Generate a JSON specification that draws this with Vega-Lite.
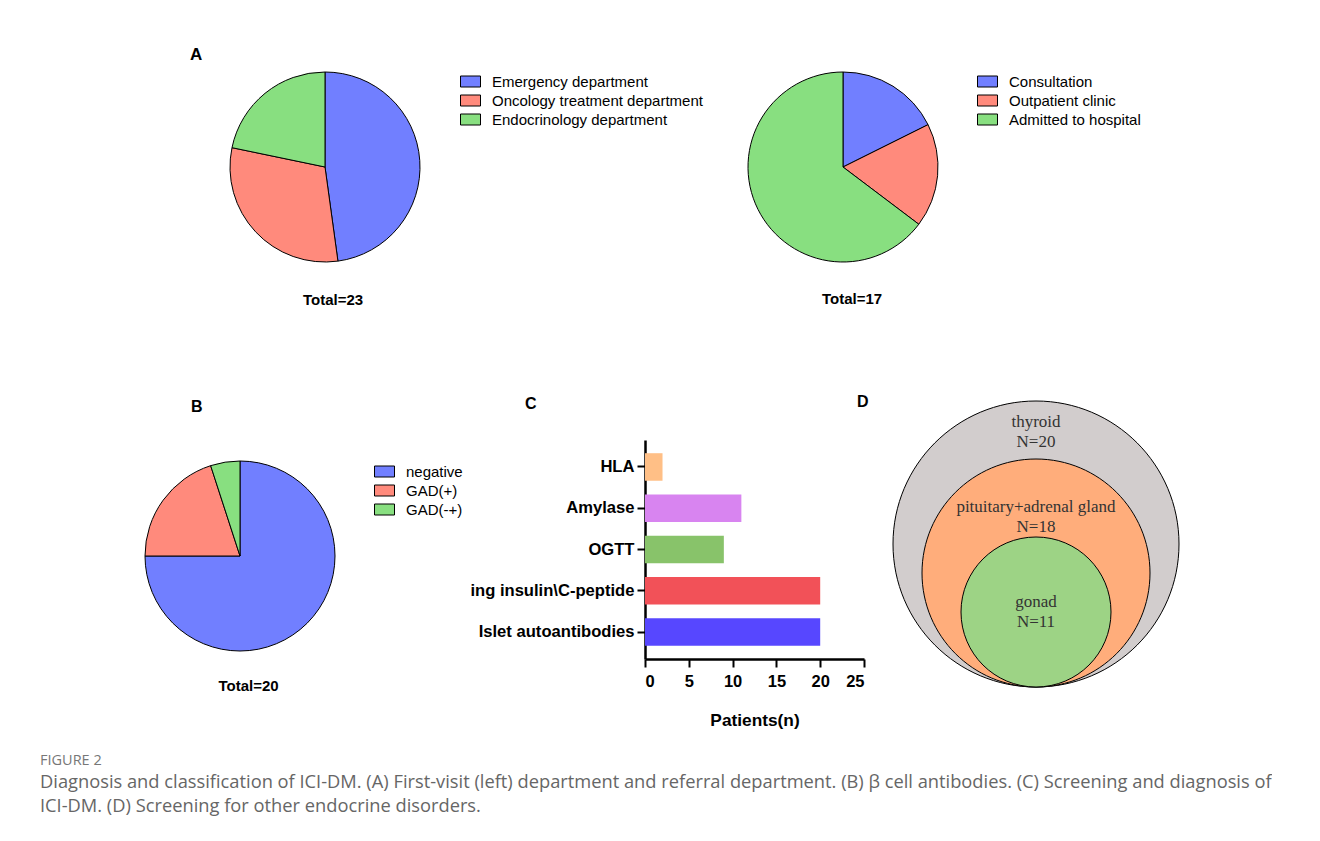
{
  "$schema": "https://vega.github.io/schema/vega-lite/v6.json",
  "padding": {"left": 40, "top": 45, "right": 0, "bottom": 0},
  "background": "white",
  "config": {
    "view": {"stroke": null},
    "font": "Liberation Sans",
    "title": {"font": "Liberation Sans", "fontWeight": "bold", "color": "black"},
    "legend": {
      "labelFont": "Liberation Sans", "labelFontSize": 15, "labelColor": "black", "labelLimit": 400,
      "symbolType": "M-1,-0.55H1V0.55H-1Z", "symbolSize": 400,
      "symbolStrokeColor": "black", "symbolStrokeWidth": 1, "symbolOpacity": 1,
      "labelOffset": 11, "rowPadding": 0, "padding": 0, "title": null
    }
  },
  "title": {
    "text": "FIGURE 2",
    "subtitle": [
      "Diagnosis and classification of ICI-DM. (A) First-visit (left) department and referral department. (B) β cell antibodies. (C) Screening and diagnosis of",
      "ICI-DM. (D) Screening for other endocrine disorders."
    ],
    "orient": "bottom", "anchor": "start", "frame": "bounds", "offset": 25,
    "font": "Open Sans", "fontSize": 14.5, "fontWeight": "normal", "color": "#777777",
    "subtitleFont": "Open Sans", "subtitleFontSize": 18.3, "subtitleColor": "#666666",
    "subtitleLineHeight": 24, "subtitlePadding": 6
  },
  "spacing": 86,
  "resolve": {"scale": {"color": "independent", "size": "independent"}, "legend": {"color": "independent"}},
  "vconcat": [
    {
      "bounds": "flush",
      "spacing": 0,
      "title": {"text": "A", "anchor": "start", "frame": "group", "dx": 150, "fontSize": 17, "offset": 6.5},
      "resolve": {"scale": {"color": "independent", "size": "independent"}, "legend": {"color": "independent"}},
      "hconcat": [
        {
          "width": 570, "height": 190,
          "data": {"values": [
            {"dept": "Emergency department", "n": 11, "i": 1},
            {"dept": "Oncology treatment department", "n": 7, "i": 2},
            {"dept": "Endocrinology department", "n": 5, "i": 3}
          ]},
          "mark": {"type": "arc", "radius": 95, "stroke": "black", "strokeWidth": 1},
          "encoding": {
            "theta": {"field": "n", "type": "quantitative", "stack": true},
            "order": {"field": "i", "type": "quantitative"},
            "color": {
              "field": "dept", "type": "nominal",
              "scale": {"domain": ["Emergency department", "Oncology treatment department", "Endocrinology department"], "range": ["#717fff", "#ff8a7c", "#88df80"]},
              "legend": {"orient": "none", "legendX": 420, "legendY": -1}
            }
          },
          "title": {"text": "Total=23", "orient": "bottom", "anchor": "middle", "frame": "group", "dx": 8, "offset": 29, "fontSize": 15}
        },
        {
          "width": 466, "height": 190,
          "data": {"values": [
            {"ref": "Consultation", "n": 3, "i": 1},
            {"ref": "Outpatient clinic", "n": 3, "i": 2},
            {"ref": "Admitted to hospital", "n": 11, "i": 3}
          ]},
          "mark": {"type": "arc", "radius": 95, "stroke": "black", "strokeWidth": 1},
          "encoding": {
            "theta": {"field": "n", "type": "quantitative", "stack": true},
            "order": {"field": "i", "type": "quantitative"},
            "color": {
              "field": "ref", "type": "nominal",
              "scale": {"domain": ["Consultation", "Outpatient clinic", "Admitted to hospital"], "range": ["#717fff", "#ff8a7c", "#88df80"]},
              "legend": {"orient": "none", "legendX": 367, "legendY": -1}
            }
          },
          "title": {"text": "Total=17", "orient": "bottom", "anchor": "middle", "frame": "group", "dx": 9, "offset": 28, "fontSize": 15}
        }
      ]
    },
    {
      "bounds": "flush",
      "spacing": 205,
      "title": {"text": "B", "anchor": "start", "frame": "group", "dx": 151, "fontSize": 16, "offset": -21},
      "resolve": {"scale": {"color": "independent", "size": "independent"}, "legend": {"color": "independent"}},
      "hconcat": [
        {
          "width": 400, "height": 232,
          "data": {"values": [
            {"ab": "negative", "n": 15, "i": 1},
            {"ab": "GAD(+)", "n": 4, "i": 2},
            {"ab": "GAD(-+)", "n": 1, "i": 3}
          ]},
          "mark": {"type": "arc", "radius": 95, "stroke": "black", "strokeWidth": 1},
          "encoding": {
            "theta": {"field": "n", "type": "quantitative", "stack": true},
            "order": {"field": "i", "type": "quantitative"},
            "color": {
              "field": "ab", "type": "nominal",
              "scale": {"domain": ["negative", "GAD(+)", "GAD(-+)"], "range": ["#717fff", "#ff8a7c", "#88df80"]},
              "legend": {"orient": "none", "legendX": 334, "legendY": 21}
            }
          },
          "title": {"text": "Total=20", "orient": "bottom", "anchor": "middle", "frame": "group", "dx": 8.5, "offset": 7, "fontSize": 15}
        },
        {
          "bounds": "flush",
          "spacing": 20,
          "resolve": {"scale": {"color": "independent", "size": "independent"}, "legend": {"color": "independent"}},
          "hconcat": [
            {
              "width": 219, "height": 219,
              "data": {"values": [
                {"test": "HLA", "n": 2},
                {"test": "Amylase", "n": 11},
                {"test": "OGTT", "n": 9},
                {"test": "ing insulin\\C-peptide", "n": 20},
                {"test": "Islet autoantibodies", "n": 20}
              ]},
              "mark": {"type": "bar"},
              "encoding": {
                "y": {
                  "field": "test", "type": "nominal",
                  "sort": ["HLA", "Amylase", "OGTT", "ing insulin\\C-peptide", "Islet autoantibodies"],
                  "scale": {"paddingInner": 0.333, "paddingOuter": 0.32},
                  "axis": {"title": null, "labelFont": "Liberation Sans", "labelFontSize": 16.6, "labelFontWeight": "bold", "labelColor": "black", "labelLimit": 300, "domainColor": "black", "domainWidth": 2.5, "tickColor": "black", "tickWidth": 2, "tickSize": 8, "labelPadding": 3}
                },
                "x": {
                  "field": "n", "type": "quantitative",
                  "scale": {"domain": [0, 25], "nice": false},
                  "axis": {"values": [0, 5, 10, 15, 20, 25], "grid": false, "title": "Patients(n)", "titleFont": "Liberation Sans", "titleFontSize": 17.3, "titleFontWeight": "bold", "titleColor": "black", "titlePadding": 22, "labelFont": "Liberation Sans", "labelFontSize": 16.5, "labelFontWeight": "bold", "labelColor": "black", "domainColor": "black", "domainWidth": 2.5, "tickColor": "black", "tickWidth": 2, "tickSize": 8, "labelPadding": 6}
                },
                "color": {
                  "field": "test", "type": "nominal",
                  "scale": {"domain": ["HLA", "Amylase", "OGTT", "ing insulin\\C-peptide", "Islet autoantibodies"], "range": ["#ffbf86", "#d884f0", "#88c36a", "#f25158", "#5747ff"]},
                  "legend": null
                }
              },
              "title": {"text": "C", "anchor": "start", "frame": "group", "dx": -120, "fontSize": 16, "offset": 28.5}
            },
            {
              "width": 304, "height": 232,
              "data": {"values": [
                {"organ": "thyroid", "N": 20, "label": "thyroid\nN=20"},
                {"organ": "pituitary+adrenal gland", "N": 18, "label": "pituitary+adrenal gland\nN=18"},
                {"organ": "gonad", "N": 11, "label": "gonad\nN=11"}
              ]},
              "layer": [
                {
                  "mark": {"type": "point", "filled": true, "opacity": 1, "stroke": "black", "strokeWidth": 1, "shape": "M0,0A1,1,0,1,1,0,-2A1,1,0,1,1,0,0Z"},
                  "encoding": {
                    "y": {"datum": 0, "type": "quantitative", "scale": {"domain": [0, 11, 18, 20], "range": [247, 162, 67, -18], "nice": false, "zero": false}, "axis": null},
                    "size": {"field": "N", "type": "quantitative", "scale": {"domain": [11, 18, 20], "range": [22500, 51984, 81796]}, "legend": null},
                    "color": {"field": "organ", "type": "nominal", "scale": {"domain": ["thyroid", "pituitary+adrenal gland", "gonad"], "range": ["#d2cdcd", "#ffad7b", "#9dd385"]}, "legend": null}
                  }
                },
                {
                  "mark": {"type": "text", "lineBreak": "\n", "font": "Liberation Serif", "fontSize": 17, "lineHeight": 20, "color": "#333333", "baseline": "middle"},
                  "encoding": {
                    "y": {"field": "N", "type": "quantitative", "axis": null},
                    "text": {"field": "label", "type": "nominal"}
                  }
                }
              ],
              "title": {"text": "D", "anchor": "start", "frame": "group", "dx": -27, "fontSize": 16, "offset": -11.3}
            }
          ]
        }
      ]
    }
  ]
}
